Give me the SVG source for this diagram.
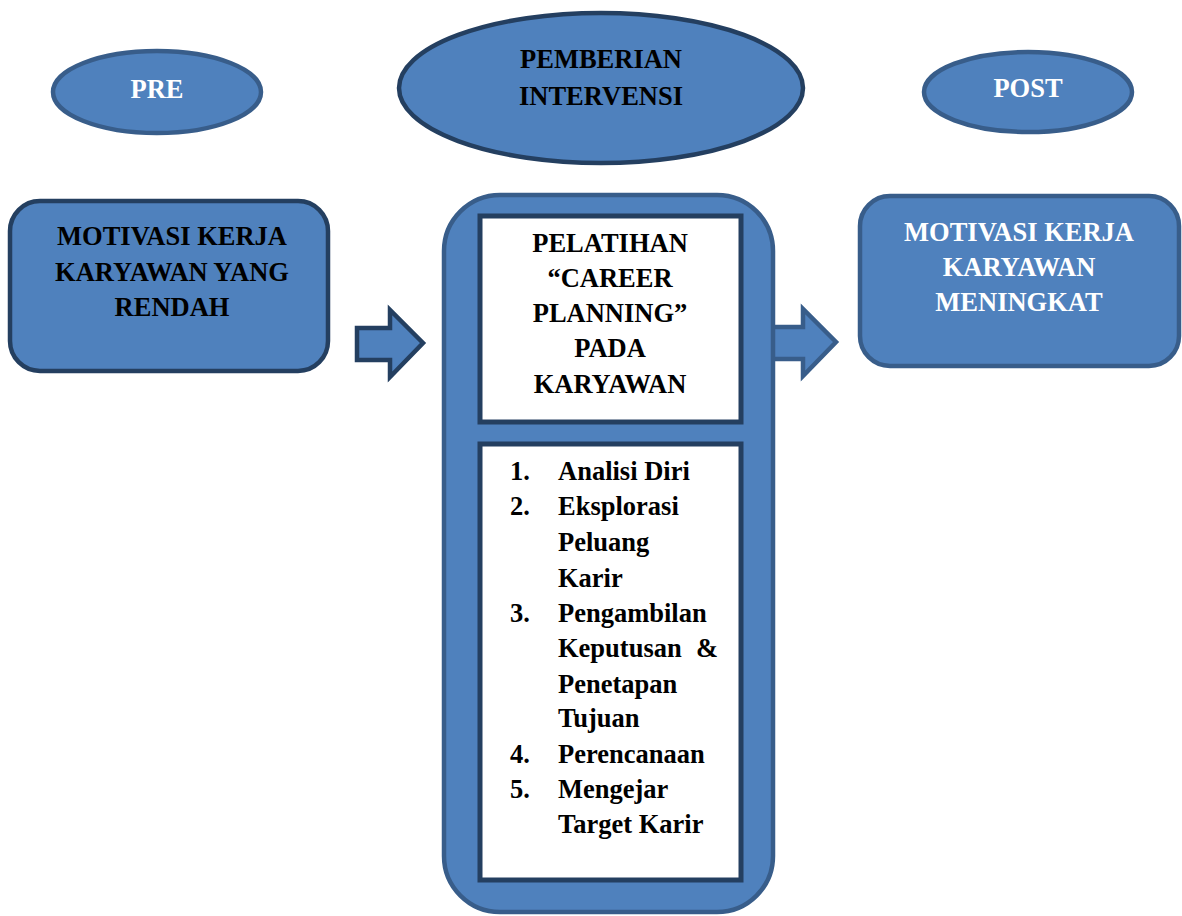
<svg xmlns="http://www.w3.org/2000/svg" width="1182" height="916" viewBox="0 0 1182 916">
  <style>
    .shape { fill: #4F81BD; }
    .edge-mid { stroke: #385D8A; stroke-width: 4.5; }
    .edge-dark { stroke: #243F60; stroke-width: 4.5; }
    .panel { fill: #FFFFFF; stroke: #243F60; stroke-width: 5; }
    text { font-family: "Liberation Serif", "Times New Roman", serif; font-weight: bold; font-size: 26.5px; }
    .c { text-anchor: middle; }
    .dark { fill: #000000; }
    .light { fill: #FFFFFF; }
  </style>
  <rect width="1182" height="916" fill="#FFFFFF"/>

  <!-- connectors: block arrows between the stages -->
  <g id="connectors">
    <polygon id="arrow-pre-intervensi" class="shape edge-dark" points="357,328 390,328 390,310 423,343 390,377 390,360 357,360"/>
    <polygon id="arrow-intervensi-post" class="shape edge-mid" points="765,327 803,327 803,309 836,342 803,376 803,359 765,359"/>
  </g>

  <!-- stage headers -->
  <g id="header-pre">
    <ellipse class="shape edge-mid" cx="157" cy="92" rx="104" ry="41"/>
    <text class="c light" x="157" y="98">PRE</text>
  </g>
  <g id="header-intervensi">
    <ellipse class="shape edge-dark" cx="601" cy="88" rx="202" ry="75"/>
    <text class="c dark" x="601" y="68">PEMBERIAN</text>
    <text class="c dark" x="601" y="105">INTERVENSI</text>
  </g>
  <g id="header-post">
    <ellipse class="shape edge-mid" cx="1028" cy="92" rx="104" ry="40"/>
    <text class="c light" x="1028" y="97">POST</text>
  </g>

  <!-- before: low motivation -->
  <g id="node-pre">
    <rect class="shape edge-dark" x="10" y="201" width="318" height="170" rx="30"/>
    <text class="c dark" x="172" y="245">MOTIVASI KERJA</text>
    <text class="c dark" x="172" y="281">KARYAWAN YANG</text>
    <text class="c dark" x="172" y="316">RENDAH</text>
  </g>

  <!-- intervention: career planning training -->
  <g id="node-intervensi">
    <rect class="shape edge-mid" x="444" y="195" width="329" height="717" rx="56"/>
    <g id="panel-pelatihan">
      <rect class="panel" x="480" y="216" width="261" height="206"/>
      <text class="c dark" x="610" y="252">PELATIHAN</text>
      <text class="c dark" x="610" y="287">“CAREER</text>
      <text class="c dark" x="610" y="322">PLANNING”</text>
      <text class="c dark" x="610" y="357">PADA</text>
      <text class="c dark" x="610" y="393">KARYAWAN</text>
    </g>
    <g id="panel-tahapan">
      <rect class="panel" x="480" y="444" width="261" height="436"/>
      <text class="dark" x="510" y="480">1.</text>
      <text class="dark" x="558" y="480">Analisi Diri</text>
      <text class="dark" x="510" y="515">2.</text>
      <text class="dark" x="558" y="515">Eksplorasi</text>
      <text class="dark" x="558" y="551">Peluang</text>
      <text class="dark" x="558" y="587">Karir</text>
      <text class="dark" x="510" y="622">3.</text>
      <text class="dark" x="558" y="622">Pengambilan</text>
      <text class="dark" x="558" y="657">Keputusan</text>
      <text class="dark" x="696" y="657">&amp;</text>
      <text class="dark" x="558" y="693">Penetapan</text>
      <text class="dark" x="558" y="727">Tujuan</text>
      <text class="dark" x="510" y="763">4.</text>
      <text class="dark" x="558" y="763">Perencanaan</text>
      <text class="dark" x="510" y="798">5.</text>
      <text class="dark" x="558" y="798">Mengejar</text>
      <text class="dark" x="558" y="833">Target Karir</text>
    </g>
  </g>

  <!-- after: increased motivation -->
  <g id="node-post">
    <rect class="shape edge-mid" x="860" y="196" width="319" height="170" rx="30"/>
    <text class="c light" x="1019" y="241">MOTIVASI KERJA</text>
    <text class="c light" x="1019" y="276">KARYAWAN</text>
    <text class="c light" x="1019" y="311">MENINGKAT</text>
  </g>
</svg>
